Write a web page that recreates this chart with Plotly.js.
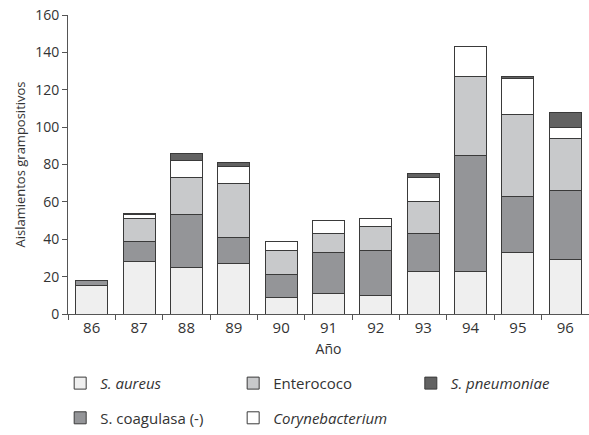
<!DOCTYPE html>
<html>
<head>
<meta charset="utf-8">
<script src="https://cdn.plot.ly/plotly-3.0.1.min.js"></script>
<style>html,body{margin:0;padding:0;background:#fff;}#chart{width:589px;height:435px;}</style>
</head>
<body>
<div id="chart"></div>
<script>
const years = ['86','87','88','89','90','91','92','93','94','95','96'];
const sAureus = [15, 28, 25, 27, 9, 11, 10, 23, 23, 33, 29];
const sCoagulasa = [3, 11, 28, 14, 12, 22, 24, 20, 62, 30, 37];
const enterococo = [0, 12, 20, 29, 13, 10, 13, 17, 42, 44, 28];
const corynebacterium = [0, 2, 9, 9, 5, 7, 4, 13, 16, 19, 6];
const sPneumoniae = [0, 1, 4, 2, 0, 0, 0, 2, 0, 1, 8];

const lineStyle = {color: '#3a3a3a', width: 1};
function tr(name, vals, color, legend) {
  return {type: 'bar', x: years, y: vals, name: name, legend: legend,
    marker: {color: color, line: lineStyle}, hoverinfo: 'none'};
}
const data = [
  tr('<i>S. aureus</i>', sAureus, '#efefef', 'legend'),
  tr('S. coagulasa (-)', sCoagulasa, '#949598', 'legend4'),
  tr('Enterococo', enterococo, '#c8c9cb', 'legend2'),
  tr('<i>Corynebacterium</i>', corynebacterium, '#ffffff', 'legend5'),
  tr('<i>S. pneumoniae</i>', sPneumoniae, '#626262', 'legend3')
];
const font = {family: '"Open Sans", sans-serif', size: 14, color: '#333'};
const legFont = {family: '"Open Sans", sans-serif', size: 15, color: '#333'};
function lg(x, y) {
  return {x: x, y: y, xref: 'paper', yref: 'paper', xanchor: 'left', yanchor: 'middle',
    orientation: 'h', font: legFont, bgcolor: 'rgba(0,0,0,0)'};
}
const layout = {
  width: 589, height: 435,
  margin: {l: 68, r: 0, t: 15, b: 114},
  barmode: 'stack',
  bargap: 0.325,
  paper_bgcolor: '#fff', plot_bgcolor: '#fff',
  font: font,
  xaxis: {type: 'category', showline: true, linecolor: '#555', linewidth: 1,
    ticks: 'outside', tickson: 'boundaries', ticklen: 5, tickcolor: '#555',
    showgrid: false, zeroline: false, tickfont: {family: '"Open Sans", sans-serif', size: 15, color: '#333'},
    title: {text: 'Año', font: font, standoff: 8}},
  yaxis: {range: [0, 160], dtick: 20, showline: true, linecolor: '#555', linewidth: 1,
    ticks: 'outside', ticklen: 5, tickcolor: '#555', showgrid: false, zeroline: false,
    title: {text: 'Aislamientos grampositivos', font: {family: '"Open Sans", sans-serif', size: 13, color: '#333'}, standoff: 6}},
  showlegend: true,
  legend: lg(-0.015, -0.232),
  legend2: lg(0.317, -0.232),
  legend3: lg(0.658, -0.232),
  legend4: lg(-0.015, -0.348),
  legend5: lg(0.317, -0.348)
};
Plotly.newPlot('chart', data, layout, {displayModeBar: false, staticPlot: true});
</script>
</body>
</html>
